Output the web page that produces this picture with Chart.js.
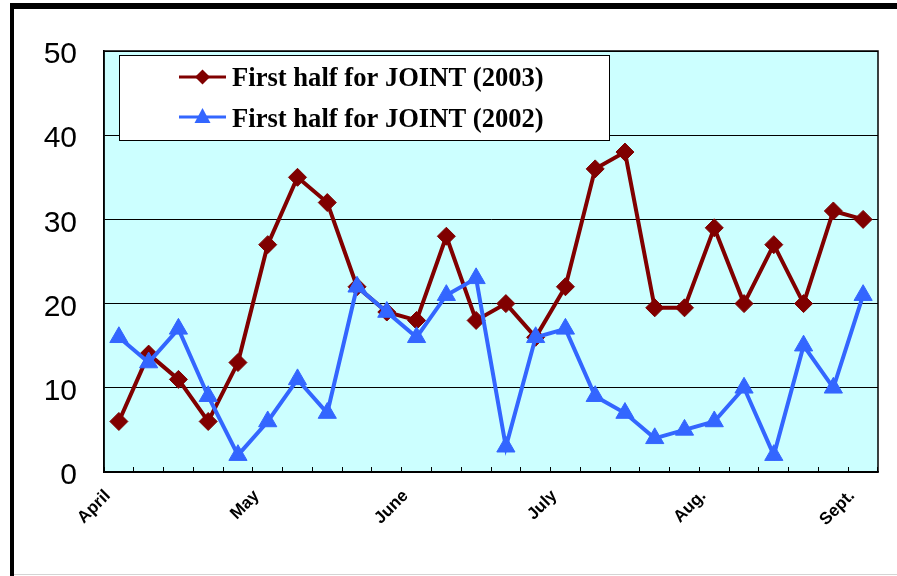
<!DOCTYPE html>
<html>
<head>
<meta charset="utf-8">
<script src="https://cdn.jsdelivr.net/npm/chart.js@4/dist/chart.umd.min.js"></script>
<style>
  html, body { margin: 0; padding: 0; background: #ffffff; }
  canvas { display: block; }
</style>
</head>
<body>
<canvas id="c" width="897" height="576"></canvas>
<script>
// ---- data ----
const categories = ['April','','','','','May','','','','','June','','','','','July','','','','','Aug.','','','','','Sept.'];
const series2003 = [6,14,11,6,13,27,35,32,22,19,18,28,18,20,16,22,36,38,19.5,19.5,29,20,27,20,31,30];
const series2002 = [16,13,17,9,2,6,11,7,22,19,16,21,23,3,16,17,9,7,4,5,6,10,2,15,10,21];
const seriesNames = ['First half for JOINT (2003)', 'First half for JOINT (2002)'];
const yMin = 0, yMax = 50, yStep = 10;

const RED = '#800000';
const BLUE = '#3366FF';

const framePlugin = {
  id: 'frame',
  beforeDraw(chart) {
    const ctx = chart.ctx;
    const a = chart.chartArea;
    ctx.save();
    ctx.fillStyle = '#ffffff';
    ctx.fillRect(0, 0, chart.width, chart.height);
    ctx.fillStyle = '#000000';
    ctx.fillRect(10, 3, chart.width - 10, 6);
    ctx.fillRect(10, 3, 4, chart.height - 3);
    ctx.fillStyle = '#d4d4d4';
    ctx.fillRect(14, chart.height - 2, chart.width - 14, 1);
    ctx.fillStyle = '#CCFFFF';
    ctx.fillRect(a.left, a.top, a.right - a.left, a.bottom - a.top);
    ctx.restore();
  },
  afterDraw(chart) {
    const ctx = chart.ctx;
    const a = chart.chartArea;
    ctx.save();
    // plot border
    ctx.strokeStyle = '#000000';
    ctx.lineWidth = 1.5;
    ctx.strokeRect(a.left, a.top, a.right - a.left, a.bottom - a.top);
    // legend box
    const bx = 119.5, by = 55.5, bw = 490, bh = 85;
    ctx.fillStyle = '#ffffff';
    ctx.fillRect(bx, by, bw, bh);
    ctx.lineWidth = 1;
    ctx.strokeStyle = '#000000';
    ctx.strokeRect(bx, by, bw, bh);
    const rows = [
      { y: 77, color: RED, style: 'diamond', name: seriesNames[0], base: 86 },
      { y: 117, color: BLUE, style: 'triangle', name: seriesNames[1], base: 127 }
    ];
    rows.forEach(r => {
      ctx.strokeStyle = r.color;
      ctx.fillStyle = r.color;
      ctx.lineWidth = 3;
      ctx.beginPath();
      ctx.moveTo(179, r.y);
      ctx.lineTo(226, r.y);
      ctx.stroke();
      const cx = 202.5;
      ctx.beginPath();
      if (r.style === 'diamond') {
        const s = 7.5;
        ctx.moveTo(cx - s, r.y);
        ctx.lineTo(cx, r.y - s);
        ctx.lineTo(cx + s, r.y);
        ctx.lineTo(cx, r.y + s);
      } else {
        ctx.moveTo(cx, r.y - 9);
        ctx.lineTo(cx + 8, r.y + 6);
        ctx.lineTo(cx - 8, r.y + 6);
      }
      ctx.closePath();
      ctx.fill();
      ctx.fillStyle = '#000000';
      ctx.font = 'bold 26.6px "Liberation Serif", "Times New Roman", serif';
      ctx.textBaseline = 'alphabetic';
      ctx.textAlign = 'left';
      ctx.fillText(r.name, 232, r.base);
    });
    ctx.restore();
  }
};

new Chart(document.getElementById('c'), {
  type: 'line',
  data: {
    labels: categories,
    datasets: [
      {
        label: seriesNames[0],
        data: series2003,
        borderColor: RED,
        backgroundColor: RED,
        borderWidth: 4,
        pointStyle: 'rectRot',
        pointRadius: 9,
        pointBorderWidth: 1,
        pointBackgroundColor: RED,
        pointBorderColor: RED,
        tension: 0,
        order: 1
      },
      {
        label: seriesNames[1],
        data: series2002,
        borderColor: BLUE,
        backgroundColor: BLUE,
        borderWidth: 4,
        pointStyle: 'triangle',
        pointRadius: 10.5,
        pointBorderWidth: 1,
        pointBackgroundColor: BLUE,
        pointBorderColor: BLUE,
        tension: 0,
        order: 0
      }
    ]
  },
  options: {
    responsive: false,
    animation: false,
    devicePixelRatio: 1,
    layout: { padding: { top: 51, right: 19, left: 0, bottom: 0 } },
    plugins: { legend: { display: false }, tooltip: { enabled: false } },
    scales: {
      x: {
        type: 'category',
        offset: true,
        grid: {
          offset: true,
          drawOnChartArea: false,
          drawTicks: true,
          tickLength: -5,
          color: '#000000',
          lineWidth: 1
        },
        border: { display: true, color: '#000000', width: 1.5 },
        ticks: {
          autoSkip: false,
          maxRotation: 45,
          minRotation: 45,
          padding: 19,
          labelOffset: -11,
          color: '#000000',
          font: { family: '"Liberation Sans", Arial, sans-serif', size: 17, weight: 'bold' },
          callback: function(v, i) { return categories[i]; }
        },
        afterFit(scale) { scale.height = 104; }
      },
      y: {
        min: yMin,
        max: yMax,
        ticks: {
          stepSize: yStep,
          padding: 27,
          labelOffset: 4,
          color: '#000000',
          font: { family: '"Liberation Sans", Arial, sans-serif', size: 30 }
        },
        grid: { color: '#000000', lineWidth: 1, drawTicks: false },
        border: { display: true, color: '#000000', width: 1.5 },
        afterFit(scale) { scale.width = 104; }
      }
    }
  },
  plugins: [framePlugin]
});
</script>
</body>
</html>
